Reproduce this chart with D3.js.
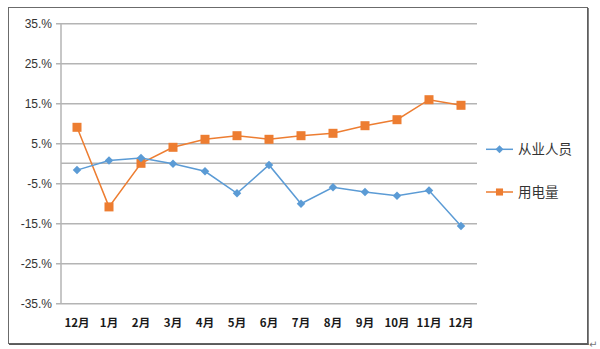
<!DOCTYPE html>
<html>
<head>
<meta charset="utf-8">
<script src="https://cdn.jsdelivr.net/npm/d3@7"></script>
<style>
  html, body { margin: 0; padding: 0; background: #fff; }
  svg { display: block; }
</style>
</head>
<body>
<svg id="chart" width="600" height="349"></svg>
<script>
// Month categories along the x axis
const months = ["12月", "1月", "2月", "3月", "4月", "5月", "6月", "7月", "8月", "9月", "10月", "11月", "12月"];
// Year-on-year growth, in percent
const employees = [-1.7, 0.7, 1.3, -0.1, -2.0, -7.5, -0.4, -10.1, -6.0, -7.2, -8.1, -6.8, -15.7];
const electricity = [9.0, -10.9, 0.0, 4.0, 6.0, 6.9, 6.0, 6.9, 7.5, 9.4, 10.9, 15.9, 14.5];
const seriesNames = ["从业人员", "用电量"];
const yTicks = [35, 25, 15, 5, -5, -15, -25, -35];

const svg = d3.select("#chart");
const plot = { left: 61, right: 477, top: 23.3, bottom: 303.3 };

// Outer frame with a heavier right/bottom edge
svg.append("rect").attr("x", 8.5).attr("y", 7.5).attr("width", 579).attr("height", 336)
  .attr("fill", "#fff").attr("stroke", "#6b6b6b").attr("stroke-width", 1);
svg.append("line").attr("x1", 588).attr("x2", 588).attr("y1", 8).attr("y2", 345)
  .attr("stroke", "#5a5a5a").attr("stroke-width", 1.5);
svg.append("line").attr("x1", 9).attr("x2", 588.5).attr("y1", 344.2).attr("y2", 344.2)
  .attr("stroke", "#5a5a5a").attr("stroke-width", 1.5);

const x = d3.scaleBand().domain(d3.range(months.length)).range([plot.left, plot.right]);
const y = d3.scaleLinear().domain([-35, 35]).range([plot.bottom, plot.top]);
const cx = i => x(i) + x.bandwidth() / 2;

const gridColor = "#b4b4b4";

// Horizontal gridlines with short tick stubs to the left
const yAxis = d3.axisLeft(y).tickValues(yTicks).tickSize(plot.right - plot.left + 5)
  .tickFormat(d => d + ".%");
const gy = svg.append("g").attr("transform", `translate(${plot.right},0)`).call(yAxis);
gy.select(".domain").remove();
gy.selectAll(".tick line").attr("stroke", gridColor).attr("stroke-width", 1.5);
gy.selectAll(".tick text")
  .attr("x", -(plot.right - plot.left) - 9)
  .attr("font-family", "'Liberation Sans', Arial, sans-serif")
  .attr("font-size", 12).attr("fill", "#333");

// Zero line (category axis crossing)
svg.append("line").attr("x1", plot.left).attr("x2", plot.right)
  .attr("y1", y(0)).attr("y2", y(0)).attr("stroke", gridColor).attr("stroke-width", 1.5);

// Vertical value-axis line
svg.append("line").attr("x1", plot.left).attr("x2", plot.left)
  .attr("y1", plot.top).attr("y2", plot.bottom).attr("stroke", gridColor).attr("stroke-width", 1.5);

// Category labels under the plot
const xAxis = d3.axisBottom(x).tickSize(0).tickFormat(i => months[i]);
const gx = svg.append("g").attr("transform", `translate(0,${plot.bottom + 13})`).call(xAxis);
gx.select(".domain").remove();
gx.selectAll(".tick text")
  .attr("font-family", "'Noto Sans CJK SC', sans-serif")
  .attr("font-weight", "bold").attr("font-size", 11.5).attr("fill", "#1a1a1a");

const blue = "#5b9bd5", orange = "#ed7d31";
const line = d3.line().x((d, i) => cx(i)).y(d => y(d));

// 用电量 series: squares
svg.append("path").datum(electricity).attr("d", line)
  .attr("fill", "none").attr("stroke", orange).attr("stroke-width", 1.5);
svg.append("g").selectAll("rect").data(electricity).join("rect")
  .attr("x", (d, i) => cx(i) - 4.5).attr("y", d => y(d) - 4.5)
  .attr("width", 9).attr("height", 9).attr("fill", orange);

// 从业人员 series: diamonds
svg.append("path").datum(employees).attr("d", line)
  .attr("fill", "none").attr("stroke", blue).attr("stroke-width", 1.5);
const diamond = d3.symbol().type(d3.symbolDiamond2).size(46);
svg.append("g").selectAll("path").data(employees).join("path")
  .attr("d", diamond)
  .attr("transform", (d, i) => `translate(${cx(i)},${y(d)})`)
  .attr("fill", blue);

// Legend
const legend = [
  { name: seriesNames[0], color: blue, shape: "diamond", y: 149.3 },
  { name: seriesNames[1], color: orange, shape: "square", y: 192 }
];
const lg = svg.append("g").selectAll("g").data(legend).join("g")
  .attr("transform", d => `translate(486,${d.y})`);
lg.append("line").attr("x1", 0).attr("x2", 27).attr("stroke", d => d.color).attr("stroke-width", 1.5);
lg.append("path")
  .attr("d", d => d.shape === "diamond"
    ? d3.symbol().type(d3.symbolDiamond2).size(40)()
    : d3.symbol().type(d3.symbolSquare2).size(64)())
  .attr("transform", "translate(13.5,0)")
  .attr("fill", d => d.color);
lg.append("text").attr("x", 32).attr("dy", "0.36em")
  .attr("font-family", "'Noto Sans CJK SC', sans-serif")
  .attr("font-size", 13.5).attr("fill", "#333")
  .text(d => d.name);

// Paragraph mark after the frame
svg.append("text").attr("x", 589).attr("y", 348).attr("font-size", 10)
  .attr("font-family", "'DejaVu Sans', sans-serif").attr("fill", "#777").text("↵");
</script>
</body>
</html>
